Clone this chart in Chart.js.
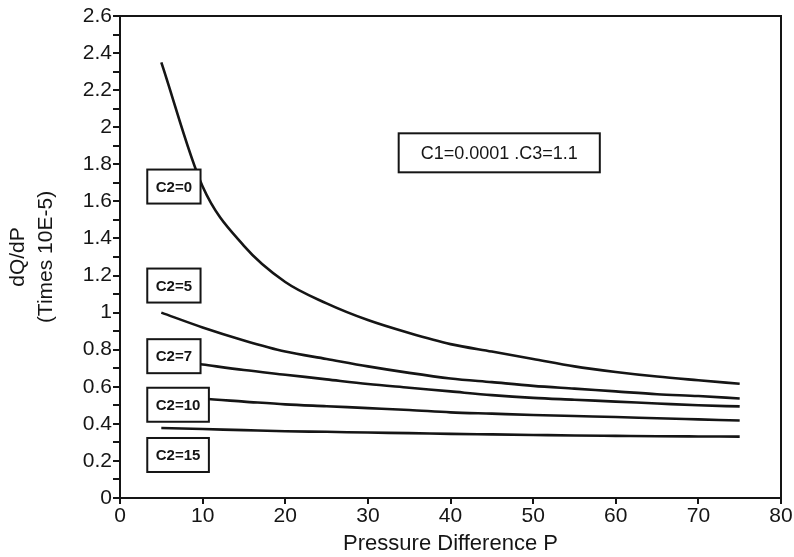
<!DOCTYPE html>
<html>
<head>
<meta charset="utf-8">
<script src="https://cdn.jsdelivr.net/npm/chart.js@4/dist/chart.umd.min.js"></script>
<style>
  html, body { margin: 0; padding: 0; background: #fff; }
  #wrap { width: 794px; height: 557px; }
</style>
</head>
<body>
<div id="wrap"><canvas id="c" width="794" height="557"></canvas></div>
<script>
// Pressure difference P at which the slope dQ/dP was evaluated
const pressure = [5, 10, 15, 20, 25, 30, 35, 40, 45, 50, 55, 60, 65, 70, 75];

// C2 parameter of each curve
const c2Values = [0, 5, 7, 10, 15];

// dQ/dP (times 10E-5) for each C2, with C1 = 0.0001 and C3 = 1.1
const slopeC2_0  = [2.35, 1.68, 1.36, 1.165, 1.05, 0.96, 0.89, 0.83, 0.79, 0.75, 0.71, 0.68, 0.655, 0.635, 0.616];
const slopeC2_5  = [1.00, 0.92, 0.85, 0.79, 0.75, 0.71, 0.675, 0.645, 0.625, 0.605, 0.59, 0.575, 0.56, 0.55, 0.537];
const slopeC2_7  = [0.75, 0.72, 0.69, 0.665, 0.64, 0.615, 0.595, 0.575, 0.555, 0.54, 0.53, 0.52, 0.51, 0.50, 0.494];
const slopeC2_10 = [0.54, 0.535, 0.52, 0.505, 0.495, 0.485, 0.475, 0.462, 0.455, 0.448, 0.442, 0.437, 0.43, 0.424, 0.418];
const slopeC2_15 = [0.378, 0.372, 0.366, 0.36, 0.357, 0.353, 0.35, 0.346, 0.343, 0.34, 0.337, 0.335, 0.333, 0.332, 0.331];

const seriesValues = [slopeC2_0, slopeC2_5, slopeC2_7, slopeC2_10, slopeC2_15];

// Axis ranges and tick steps
const xRange = [0, 80];
const xStep = 10;
const yRange = [0, 2.6];
const yStep = 0.1;

const parameterNote = 'C1=0.0001 .C3=1.1';

// Where the curve tags and the parameter note sit, in axis units
const tagLayout = {
  left: 3.3,
  centers: [1.68, 1.146, 0.765, 0.503, 0.232]
};
const noteLayout = { x: 45.9, y: 1.862 };

const FONT = "'Liberation Sans', Arial, Helvetica, sans-serif";
const INK = '#151515';

const datasets = seriesValues.map((vals, i) => ({
  label: 'C2=' + c2Values[i],
  data: pressure.map((p, j) => ({ x: p, y: vals[j] })),
  borderColor: INK,
  borderWidth: 2.6,
  pointRadius: 0,
  fill: false,
  cubicInterpolationMode: 'monotone'
}));

// Frame around the plot plus the boxed labels
const annotations = {
  id: 'annotations',
  afterDatasetsDraw(chart) {
    const { ctx, chartArea: a, scales: { x, y } } = chart;
    ctx.save();
    ctx.strokeStyle = INK;
    ctx.lineWidth = 2;
    ctx.beginPath();
    ctx.moveTo(a.left, a.top);
    ctx.lineTo(a.right, a.top);
    ctx.lineTo(a.right, a.bottom);
    ctx.stroke();

    const box = (cx, cy, w, h, text, font) => {
      ctx.fillStyle = '#fff';
      ctx.fillRect(cx - w / 2, cy - h / 2, w, h);
      ctx.lineWidth = 2;
      ctx.strokeStyle = INK;
      ctx.strokeRect(cx - w / 2, cy - h / 2, w, h);
      ctx.fillStyle = INK;
      ctx.font = font;
      ctx.textAlign = 'center';
      ctx.textBaseline = 'middle';
      ctx.fillText(text, cx, cy + 1);
    };

    const tagFont = 'bold 15px ' + FONT;
    c2Values.forEach((c2, i) => {
      const text = 'C2=' + c2;
      ctx.font = tagFont;
      const w = ctx.measureText(text).width + 17;
      const left = x.getPixelForValue(tagLayout.left);
      box(left + w / 2, y.getPixelForValue(tagLayout.centers[i]), w, 34, text, tagFont);
    });

    const noteFont = '18px ' + FONT;
    ctx.font = noteFont;
    const nw = ctx.measureText(parameterNote).width + 44;
    box(x.getPixelForValue(noteLayout.x), y.getPixelForValue(noteLayout.y), nw, 39, parameterNote, noteFont);
    ctx.restore();
  }
};

new Chart(document.getElementById('c'), {
  type: 'line',
  data: { datasets },
  options: {
    responsive: false,
    animation: false,
    layout: { padding: { left: 0, right: 13, top: 16, bottom: 0 } },
    plugins: { legend: { display: false }, tooltip: { enabled: false } },
    scales: {
      x: {
        type: 'linear',
        min: xRange[0],
        max: xRange[1],
        ticks: {
          stepSize: xStep,
          color: INK,
          padding: 0,
          maxRotation: 0,
          font: { family: FONT, size: 21 }
        },
        grid: { drawOnChartArea: false, drawTicks: true, tickLength: 6, color: INK, lineWidth: 2 },
        border: { display: true, color: INK, width: 2 },
        title: {
          display: true,
          text: 'Pressure Difference P',
          color: INK,
          font: { family: FONT, size: 22 },
          padding: { top: 0, bottom: 0 }
        },
        afterFit(scale) { scale.height = 59; }
      },
      y: {
        type: 'linear',
        min: yRange[0],
        max: yRange[1],
        ticks: {
          stepSize: yStep,
          autoSkip: false,
          color: INK,
          padding: 1,
          font: { family: FONT, size: 21 },
          callback(value) {
            const tenths = Math.round(value * 10);
            return tenths % 2 === 0 ? String(tenths / 10) : '';
          }
        },
        grid: { drawOnChartArea: false, drawTicks: true, tickLength: 7, color: INK, lineWidth: 2 },
        border: { display: true, color: INK, width: 2 },
        title: {
          display: true,
          text: ['dQ/dP', '(Times 10E-5)'],
          color: INK,
          font: { family: FONT, size: 21, lineHeight: 1.3 },
          padding: { top: 5, bottom: 0 }
        },
        afterFit(scale) { scale.width = 120; }
      }
    }
  },
  plugins: [annotations]
});
</script>
</body>
</html>
